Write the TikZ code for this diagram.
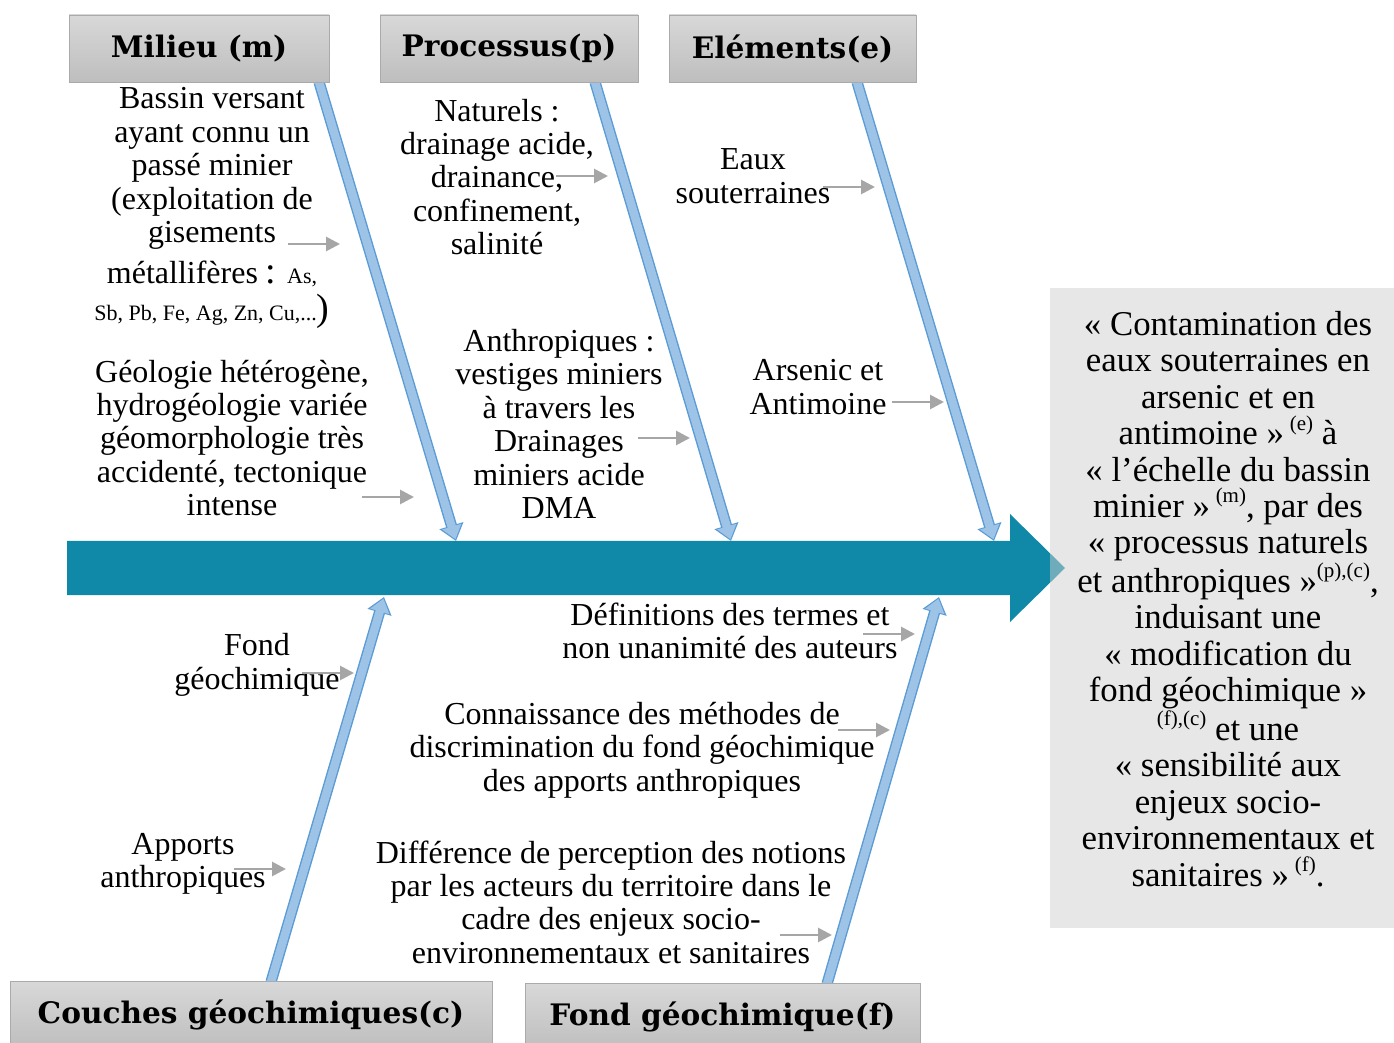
\documentclass[tikz,border=0pt]{standalone}
\usepackage{fontspec}
\setmainfont{Liberation Serif}
\newfontfamily\headfont{DejaVu Serif}
\usepackage{xcolor}
\usetikzlibrary{arrows.meta,positioning,calc}
\definecolor{spine}{RGB}{16,137,168}
\definecolor{bonefill}{RGB}{157,195,230}
\definecolor{boneline}{RGB}{91,155,213}
\definecolor{headtop}{RGB}{216,216,216}
\definecolor{headbot}{RGB}{190,190,190}
\definecolor{headline}{RGB}{170,170,170}
\definecolor{feedgray}{RGB}{166,166,166}
\definecolor{boxgray}{RGB}{207,207,207}
\newcommand{\refsup}[1]{\raisebox{0.42em}{\fontsize{10.5}{10.5}\selectfont #1}}

\begin{document}
\begin{tikzpicture}[x=0.5pt, y=-0.5pt,
    header/.style={rectangle, draw=headline, top color=headtop, bottom color=headbot, minimum height=33.5pt, inner sep=0pt, font=\headfont\bfseries\fontsize{14.8}{17}\selectfont},
    cause/.style={align=center, inner sep=0pt, font=\fontsize{16}{16.7}\selectfont},
    result/.style={rectangle, fill=boxgray, fill opacity=0.5, minimum width=172pt, minimum height=320pt, inner sep=0pt},
    conc/.style={align=center, inner sep=0pt, font=\fontsize{17.4}{18.2}\selectfont},
    boneedge/.style={draw=boneline, line width=5.6pt, -{Triangle[width=12pt,length=8pt]}},
    bonecore/.style={draw=bonefill, line width=4.2pt, shorten >=0.9pt, -{Triangle[width=9.6pt,length=6.6pt]}},
    feed/.style={draw=feedgray, line width=1.4pt, -{Triangle[width=7pt,length=7pt]}}
]
    \useasboundingbox (0,0) rectangle (1394,1043);

    % Spine
    \fill[spine] (67,541) -- (1010,541) -- (1010,514) -- (1065,568) -- (1010,622) -- (1010,595) -- (67,595) -- cycle;

    % Effect box
    \node[result] (resultbox) at (1222,608) {};

    % Bones
    \coordinate (mtop) at (319,82);  \coordinate (mtip) at (456,541);
    \coordinate (ptop) at (595,82);  \coordinate (ptip) at (731,541);
    \coordinate (etop) at (857,82);  \coordinate (etip) at (994,541);
    \coordinate (ctop) at (271,982); \coordinate (ctip) at (384,597);
    \coordinate (ftop) at (827,984); \coordinate (ftip) at (939,597);
    \foreach \a/\b in {mtop/mtip, ptop/ptip, etop/etip, ctop/ctip, ftop/ftip} {
        \draw[boneedge] (\a) -- (\b);
        \draw[bonecore] (\a) -- (\b);
    }

    % Categories
    \node[header, minimum width=130pt] (milieu) at (199,48.5) {Milieu (m)};
    \node[header, minimum width=129pt] (processus) at (509,48.5) {Processus(p)};
    \node[header, minimum width=123.5pt] (elements) at (792.5,48.5) {Eléments(e)};
    \node[header, minimum width=241pt] (couches) at (251,1015) {Couches géochimiques(c)};
    \node[header, minimum width=197.5pt] (fond) at (722.5,1017) {Fond géochimique(f)};

    % Causes
    \node[cause] (bassin) at (212,208) {Bassin versant\\ayant connu un\\passé minier\\(exploitation de\\gisements\\[4pt]métallifères {\fontsize{19}{19}\selectfont :} {\fontsize{11}{11}\selectfont As,}\\[1.5pt]{\fontsize{11}{11}\selectfont Sb, Pb, Fe, Ag, Zn, Cu,...}{\fontsize{19}{19}\selectfont )}};
    \node[cause] (geologie) at (232,438) {Géologie hétérogène,\\hydrogéologie variée\\géomorphologie très\\accidenté, tectonique\\intense};
    \node[cause] (naturels) at (497,177) {Naturels~:\\drainage acide,\\drainance,\\confinement,\\salinité};
    \node[cause] (anthropiques) at (559,424) {Anthropiques~:\\vestiges miniers\\à travers les\\Drainages\\miniers acide\\DMA};
    \node[cause] (eaux) at (753,176) {Eaux\\souterraines};
    \node[cause] (arsenic) at (818,387) {Arsenic et\\Antimoine};
    \node[cause] (fondgeo) at (257,665) {Fond\\géochimique};
    \node[cause] (apports) at (183,864) {Apports\\anthropiques};
    \node[cause] (definitions) at (730,631) {Définitions des termes et\\non unanimité des auteurs};
    \node[cause] (methodes) at (642,750) {Connaissance des méthodes de\\discrimination du fond géochimique\\des apports anthropiques};
    \node[cause] (perception) at (611,902) {Différence de perception des notions\\par les acteurs du territoire dans le\\cadre des enjeux socio-\\environnementaux et sanitaires};

    % Effect
    \node[conc] (conclusion) at (1228,599) {«~Contamination des\\eaux souterraines en\\arsenic et en\\antimoine~»\,\refsup{(e)} à\\«~l’échelle du bassin\\minier~»\,\refsup{(m)}, par des\\«~processus naturels\\et anthropiques~»\refsup{(p),(c)},\\induisant une\\«~modification du\\fond géochimique~»\\\refsup{(f),(c)} et une\\«~sensibilité aux\\enjeux socio-\\environnementaux et\\sanitaires~»\,\refsup{(f)}.};

    % Small arrows
    \foreach \n/\x/\y in {1/288/244, 2/362/497, 3/556/176, 4/638/438, 5/823/187, 6/892/402, 7/302/673, 8/234/869, 9/863/634, 10/838/730, 11/780/935} {
        \coordinate (fa\n) at (\x,\y);
        \coordinate (fb\n) at (\x+52,\y);
        \draw[feed] (fa\n) -- (fb\n);
    }
\end{tikzpicture}
\end{document}
